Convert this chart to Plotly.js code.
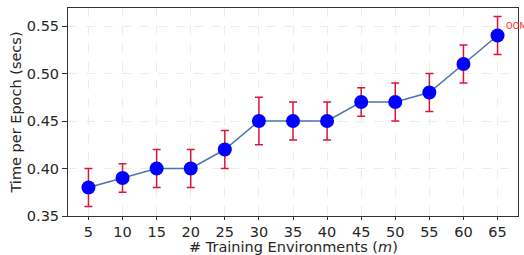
<!DOCTYPE html>
<html><head><meta charset="utf-8">
<script src="https://cdn.plot.ly/plotly-3.0.1.min.js"></script>
<style>html,body{margin:0;padding:0;background:#fff;}#chart{width:524px;height:255px;}</style>
</head><body><div id="chart"></div>
<script>
const envs = [5,10,15,20,25,30,35,40,45,50,55,60,65];
const timePerEpoch = [0.38,0.39,0.40,0.40,0.42,0.45,0.45,0.45,0.47,0.47,0.48,0.51,0.54];
const errors = [0.02,0.015,0.02,0.02,0.02,0.025,0.02,0.02,0.015,0.02,0.02,0.02,0.02];
const yTicks = [0.35,0.40,0.45,0.50,0.55];

const font = {family:'DejaVu Sans, sans-serif', size:14.5, color:'#262626'};
const trace = {
  x: envs, y: timePerEpoch, type:'scatter', mode:'lines+markers',
  line:{color:'#4c72b0', width:1.5},
  marker:{color:'#0000ff', size:14},
  error_y:{type:'data', array:errors, visible:true, color:'#dc143c', thickness:1.5, width:4},
  cliponaxis:false
};
const layout = {
  width:524, height:255,
  margin:{l:68, r:6, t:8, b:39},
  paper_bgcolor:'#fff', plot_bgcolor:'#fff',
  font: font,
  showlegend:false,
  xaxis:{
    range:[2,68], tickvals:envs, ticktext:envs.map(String),
    showgrid:true, gridcolor:'#ececec', griddash:'dash', gridwidth:1,
    zeroline:false, showline:true, linecolor:'#333', linewidth:1, mirror:true,
    ticks:'outside', ticklen:3, tickcolor:'#333', tickfont:font
  },
  yaxis:{
    range:[0.35,0.569], tickvals:yTicks, ticktext:yTicks.map(v=>v.toFixed(2)),
    showgrid:true, gridcolor:'#ececec', griddash:'dash', gridwidth:1,
    zeroline:false, showline:true, linecolor:'#333', linewidth:1, mirror:true,
    ticks:'outside', ticklen:5, tickcolor:'#333', tickfont:font,
    title:{text:'Time per Epoch (secs)', font:font, standoff:1}
  },
  annotations:[{
    x:65, y:0.54, xref:'x', yref:'y', text:'OOM', showarrow:false,
    xanchor:'left', yanchor:'middle', xshift:6, yshift:10,
    font:{family:'DejaVu Sans, sans-serif', size:8.5, color:'#ff2020'}
  },{
    x:0.5, y:0, xref:'paper', yref:'paper', text:'# Training Environments (<i>m</i>)',
    showarrow:false, xanchor:'center', yanchor:'top', yshift:-22, borderpad:0,
    font:font
  }]
};
Plotly.newPlot('chart',[trace],layout,{displayModeBar:false, staticPlot:true});
</script></body></html>
